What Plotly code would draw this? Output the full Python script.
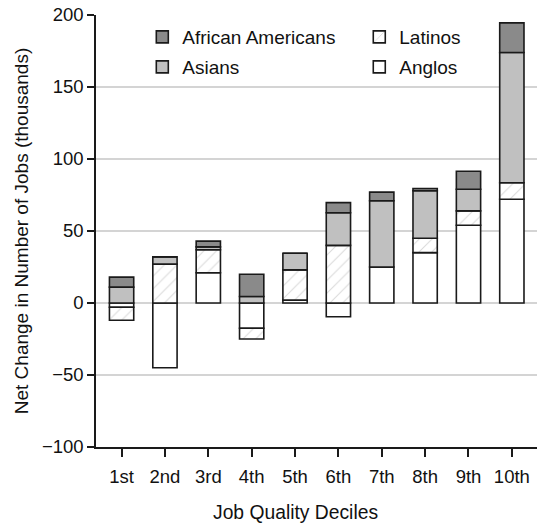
import plotly.graph_objects as go

# Job quality deciles and net job change (thousands) by group
deciles = ["1st", "2nd", "3rd", "4th", "5th", "6th", "7th", "8th", "9th", "10th"]
anglos = [-3, -45, 21, -17.5, 2, -9.5, 25, 35, 54, 72]
latinos = [-9, 27, 16, -7.5, 21, 40, 0, 10, 10, 11.5]
asians = [11, 5, 2, 4.5, 11.5, 22.7, 46, 33, 15, 90.5]
african_americans = [7, 0, 4, 15.5, 0, 7, 6, 1.5, 12.5, 20.5]

y_ticks = [-100, -50, 0, 50, 100, 150, 200]

FONT = "Liberation Sans, Arial, Helvetica, sans-serif"
OUTLINE = dict(color="#1a1a1a", width=1.6)
BAR_W = 0.56

fig = go.Figure()

series = [
    ("Anglos", anglos, dict(color="white", line=OUTLINE), "legend4"),
    ("Latinos", latinos, dict(color="white", line=OUTLINE,
                              pattern=dict(shape="/", fgcolor="#b5b5b5", bgcolor="white",
                                           size=9, solidity=0.12)), "legend2"),
    ("Asians", asians, dict(color="#c0c0c0", line=OUTLINE), "legend3"),
    ("African Americans", african_americans, dict(color="#8a8a8a", line=OUTLINE), "legend"),
]

for name, vals, marker, leg in series:
    fig.add_trace(go.Bar(
        x=list(range(len(deciles))), y=vals, name=name, marker=marker,
        width=BAR_W, legend=leg, showlegend=True,
    ))

leg_common = dict(font=dict(family=FONT, size=19, color="#111"), bgcolor="rgba(0,0,0,0)",
                  xanchor="left", yanchor="middle", itemwidth=30, visible=True)

row1 = 1 - (37 - 15) / 432
row2 = 1 - (67 - 15) / 432

fig.update_layout(
    width=537, height=527,
    margin=dict(l=96, r=0, t=15, b=80),
    paper_bgcolor="white", plot_bgcolor="white",
    barmode="relative",
    showlegend=True,
    font=dict(family=FONT, size=19, color="#111"),
    legend=dict(x=0.105, y=row1, **leg_common),
    legend3=dict(x=0.105, y=row2, **leg_common),
    legend2=dict(x=0.597, y=row1, **leg_common),
    legend4=dict(x=0.597, y=row2, **leg_common),
    xaxis=dict(
        tickmode="array", tickvals=list(range(len(deciles))), ticktext=deciles,
        range=[-0.59, 9.58], showgrid=False, zeroline=False,
        showline=True, linecolor="#1a1a1a", linewidth=1.5,
        ticks="outside", ticklen=8, tickwidth=1.5, tickcolor="#1a1a1a",
        ticklabelstandoff=4, tickfont=dict(size=18.5),
    ),
    yaxis=dict(
        range=[-100, 200], tickvals=y_ticks, ticktext=[str(v).replace("-", "\u2212") for v in y_ticks],
        showgrid=True, gridcolor="#d4d4d4", gridwidth=1.5, zeroline=False,
        showline=True, linecolor="#1a1a1a", linewidth=1.5,
        ticks="outside", ticklen=7, tickwidth=1.5, tickcolor="#1a1a1a",
        tickfont=dict(size=18.5),
        title=dict(text="Net Change in Number of Jobs (thousands)", standoff=8, font=dict(size=19)),
    ),
    annotations=[dict(
        text="Job Quality Deciles", xref="paper", yref="paper",
        x=(295 - 96) / 441, y=-(512 - 447) / 432, xanchor="center", yanchor="middle",
        showarrow=False, font=dict(family=FONT, size=19.3, color="#111"),
    )],
)

fig.write_html("out.html")
